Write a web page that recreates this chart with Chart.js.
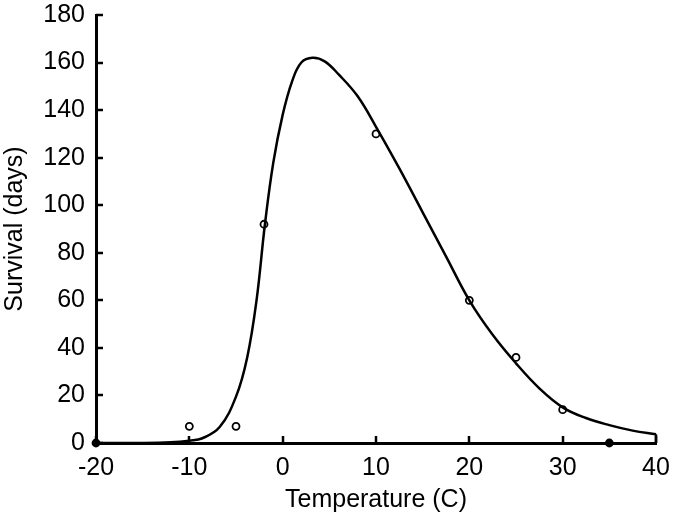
<!DOCTYPE html>
<html>
<head>
<meta charset="utf-8">
<script src="https://cdn.jsdelivr.net/npm/chart.js@4.4.1/dist/chart.umd.min.js"></script>
<style>
  html, body { margin: 0; padding: 0; background: #fff; }
</style>
</head>
<body>
<canvas id="survivalChart" width="675" height="523"></canvas>
<script>
// fitted curve
const curveTemp = [-20, -15, -12, -10, -8.6, -6.75, -5, -3.8, -2.8, -1.9, -1, 0, 1, 2, 3.2, 4.5, 6, 8, 10, 12.5, 15, 17.5, 20, 22.5, 25, 27.5, 30, 32.5, 35, 37.5, 40];
const curveDays = [0, 0, 0.3, 1, 2, 6.7, 19.5, 36, 60, 92, 118, 138, 152, 160, 162, 160.5, 155, 146, 133, 115.5, 97, 78.5, 60, 45.5, 33.5, 23, 15, 10.5, 7.5, 5.2, 3.7];
// closing drop at the right end
const endTemp = [40, 40];
const endDays = [3.7, 0];

// observed points
const obsTemp = [-20, -10, -5, -2, 10, 20, 25, 30, 35];
const obsDays = [0, 7, 7, 92, 130, 60, 36, 14, 0];

const xTicks = [-20, -10, 0, 10, 20, 30, 40];
const yTicks = [0, 20, 40, 60, 80, 100, 120, 140, 160, 180];

const toXY = (xs, ys) => xs.map((x, i) => ({ x: x, y: ys[i] }));

const font = { family: "'Liberation Sans', Arial, sans-serif", size: 25 };

// tick marks pointing into the plot, like the original
const inwardTicks = {
    id: 'inwardTicks',
    afterDraw: function(chart) {
        const c = chart.ctx;
        const area = chart.chartArea;
        const xs = chart.scales.x, ys = chart.scales.y;
        const len = 7;
        c.save();
        c.strokeStyle = '#000';
        c.lineWidth = 2.5;
        xTicks.forEach(function(v) {
            const px = Math.round(xs.getPixelForValue(v));
            c.beginPath();
            c.moveTo(px, area.bottom);
            c.lineTo(px, area.bottom - len);
            c.stroke();
        });
        yTicks.forEach(function(v) {
            const py = Math.round(ys.getPixelForValue(v));
            c.beginPath();
            c.moveTo(area.left, py);
            c.lineTo(area.left + len, py);
            c.stroke();
        });
        c.restore();
    }
};

const ctx = document.getElementById('survivalChart').getContext('2d');
const survivalChart = new Chart(ctx, {
    type: 'scatter',
    data: {
        datasets: [{
            label: 'Fit',
            data: toXY(curveTemp, curveDays),
            showLine: true,
            borderColor: '#000',
            borderWidth: 2.5,
            pointRadius: 0,
            tension: 0.4,
            clip: false
        }, {
            label: 'End',
            data: toXY(endTemp, endDays),
            showLine: true,
            borderColor: '#000',
            borderWidth: 2.5,
            pointRadius: 0,
            clip: false
        }, {
            label: 'Observed',
            data: toXY(obsTemp, obsDays),
            showLine: false,
            pointRadius: 3.5,
            borderWidth: 1.8,
            borderColor: '#000',
            backgroundColor: function(c) {
                return c.raw && c.raw.y === 0 ? '#000' : '#fff';
            },
            clip: false
        }]
    },
    options: {
        responsive: false,
        animation: false,
        layout: { padding: { left: 0, top: 15, right: 19, bottom: 0 } },
        plugins: {
            legend: { display: false },
            tooltip: { enabled: false }
        },
        scales: {
            x: {
                type: 'linear',
                min: -20,
                max: 40,
                afterBuildTicks: function(scale) {
                    scale.ticks = xTicks.map(v => ({ value: v }));
                },
                afterFit: function(scale) {
                    scale.height = 80;
                    scale.paddingLeft = 0;
                    scale.paddingRight = 0;
                },
                border: { display: true, color: '#000', width: 3 },
                grid: { display: false, drawTicks: false },
                ticks: { color: '#000', font: font, padding: 10, maxRotation: 0, autoSkip: false },
                title: { display: true, text: 'Temperature (C)', color: '#000', font: font, padding: { top: 4, bottom: 8 } }
            },
            y: {
                type: 'linear',
                min: 0,
                max: 180,
                afterBuildTicks: function(scale) {
                    scale.ticks = yTicks.map(v => ({ value: v }));
                },
                afterFit: function(scale) {
                    scale.width = 96;
                    scale.paddingTop = 0;
                    scale.paddingBottom = 0;
                },
                border: { display: true, color: '#000', width: 3 },
                grid: { display: false, drawTicks: false },
                ticks: { color: '#000', font: font, padding: 11, autoSkip: false },
                title: { display: true, text: 'Survival (days)', color: '#000', font: font, padding: 0 }
            }
        }
    },
    plugins: [inwardTicks]
});
</script>
</body>
</html>
